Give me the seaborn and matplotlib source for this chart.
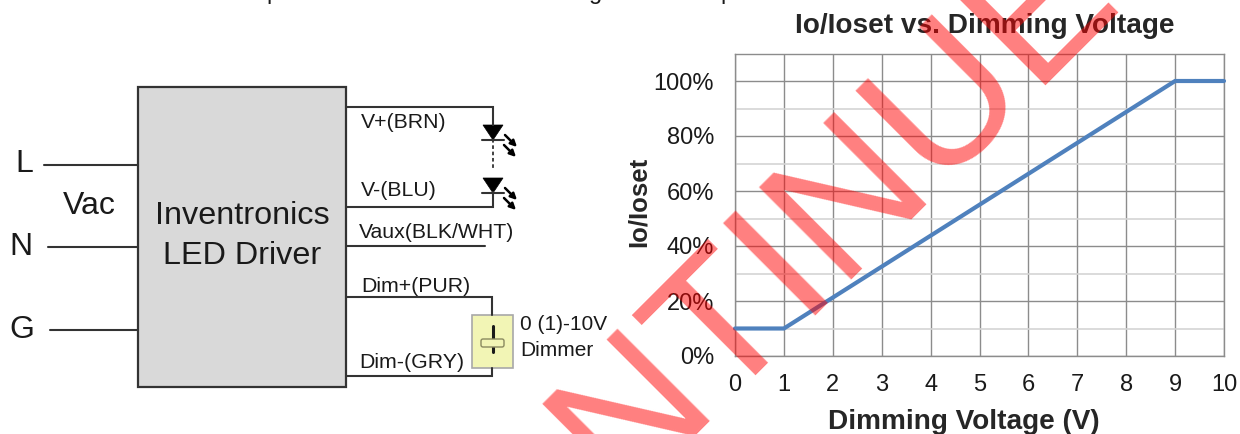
from matplotlib import pyplot as plt
from matplotlib.patches import Rectangle, Polygon, FancyBboxPatch
import seaborn as sns
import pandas as pd
import numpy as np

# curve
dim_voltage = [0, 1, 9, 10]
io_ratio = [0.10, 0.10, 1.00, 1.00]
x_ticks = [0, 1, 2, 3, 4, 5, 6, 7, 8, 9, 10]
y_major = [0, 0.2, 0.4, 0.6, 0.8, 1.0]
y_major_labels = ["0%", "20%", "40%", "60%", "80%", "100%"]
y_minor = [0.1, 0.3, 0.5, 0.7, 0.9, 1.1]

# schematic, in picture pixels
wires = [
    ([44, 138], [165, 165]), ([48, 138], [247, 247]), ([50, 138], [330, 330]),
    ([346, 493, 493], [107, 107, 125]), ([346, 493, 493], [207, 207, 192]),
    ([346, 485], [246, 246]),
    ([346, 492, 492], [297, 297, 315]), ([346, 492, 492], [376, 376, 368]),
]
wire_labels = [
    ("V+(BRN)", 361, 122), ("V-(BLU)", 361, 190), ("Vaux(BLK/WHT)", 359, 233),
    ("Dim+(PUR)", 361, 286), ("Dim-(GRY)", 359, 363),
]
mains_labels = [("L", 24, 164), ("N", 21, 247), ("G", 22, 330)]
diode_tops = [125, 178]

df = pd.DataFrame({"V": dim_voltage, "ratio": io_ratio})

sns.set_theme(style="white")
plt.rcParams['font.family'] = ['Liberation Sans', 'DejaVu Sans']

fig = plt.figure(figsize=(12.4, 4.34), dpi=100)
ax = fig.add_axes([735 / 1240, 1 - 356 / 434, (1224 - 735) / 1240, (356 - 53.5) / 434])

sns.lineplot(data=df, x="V", y="ratio", color="#4f81bd", linewidth=3.0, ax=ax,
             clip_on=False, zorder=5, solid_joinstyle="miter")
ax.set_xlim(0, 10)
ax.set_ylim(0, 1.1)
ax.set_xticks(x_ticks)
ax.set_yticks(y_major)
ax.set_yticklabels(y_major_labels)
ax.set_yticks(y_minor, minor=True)
ax.grid(True, which="major", color="#8c8c8c", linewidth=1.0)
ax.grid(True, which="minor", axis="y", color="#d4d4d4", linewidth=1.2)
ax.tick_params(axis="x", labelsize=17, length=0, pad=13, labelcolor="#1a1a1a")
ax.tick_params(axis="y", labelsize=17, length=0, pad=15, labelcolor="#1a1a1a")
ax.tick_params(which="minor", length=0)
for s in ax.spines.values():
    s.set_color("#8c8c8c")
    s.set_linewidth(1.0)
ax.set_title("Io/Ioset vs. Dimming Voltage", fontsize=20.2, fontweight="bold", pad=15, x=0.511)
ax.set_xlabel("Dimming Voltage (V)", fontsize=20.2, fontweight="bold", x=0.468, labelpad=9)
ax.set_ylabel("Io/Ioset", fontsize=18.5, fontweight="bold")
ax.yaxis.set_label_coords(-0.172, 0.51)

# overlay in pixel coordinates for the schematic and the watermark
ov = fig.add_axes([0, 0, 1, 1], facecolor="none")
ov.set_xlim(0, 1240)
ov.set_ylim(434, 0)
ov.axis("off")

ov.add_patch(Rectangle((138, 87), 208, 300, fc="#d9d9d9", ec="#333333", lw=1.6))
for xs, ys in wires:
    ov.plot(xs, ys, color="#333333", lw=1.5, solid_joinstyle="miter")
ov.plot([493, 493], [139, 168], color="#333333", lw=1.3, ls=(0, (2, 1.5)))
for top in diode_tops:
    ov.add_patch(Polygon([(483, top), (503, top), (493, top + 15)], fc="black", ec="black", lw=0.5))
    ov.plot([482, 504], [top + 15, top + 15], color="#333333", lw=1.5)
    for dx, dy in [(0, 0), (-1, 10)]:
        ov.annotate("", xy=(517 + dx, top + 22 + dy), xytext=(505 + dx, top + 10 + dy),
                    arrowprops=dict(arrowstyle="-|>", color="black", lw=1.8, mutation_scale=9,
                                    shrinkA=0, shrinkB=0))

for txt, x, y in wire_labels:
    ov.text(x, y, txt, fontsize=15.3, ha="left", va="center", color="#1a1a1a")
for txt, x, y in mains_labels:
    ov.text(x, y, txt, fontsize=23, ha="center", va="center", color="#1a1a1a")
ov.text(89, 206, "Vac", fontsize=23, ha="center", va="center", color="#1a1a1a")
ov.text(242, 216, "Inventronics", fontsize=23.3, ha="center", va="center", color="#1a1a1a")
ov.text(242, 256, "LED Driver", fontsize=23.3, ha="center", va="center", color="#1a1a1a")

# dimmer
ov.add_patch(Rectangle((472, 315), 41, 53, fc="#f2f5b5", ec="#a8a8a8", lw=1.2))
ov.plot([492.5, 492.5], [326, 352], color="#1a1a1a", lw=2.2)
ov.add_patch(FancyBboxPatch((481, 339), 23, 8, boxstyle="round,pad=0,rounding_size=2",
                            fc="#f2f5b5", ec="#8a8a60", lw=1.0, zorder=4))
ov.text(520, 325, "0 (1)-10V", fontsize=15, ha="left", va="center", color="#1a1a1a")
ov.text(520, 351, "Dimmer", fontsize=15, ha="left", va="center", color="#1a1a1a")

# line above, cut off by the top edge
for txt, x in [("p", 272.5), ("g", 595.5), ("p", 727)]:
    ov.text(x, -1, txt, fontsize=17, ha="center", va="baseline", color="#1a1a1a", clip_on=False)

# watermark
ov.text(194, 922, "DISCONTINUED", fontsize=137, color="#ff0000", alpha=0.5, rotation=45,
        rotation_mode="anchor", ha="left", va="baseline", zorder=10, clip_on=False)

plt.savefig("out.png", dpi=100)
